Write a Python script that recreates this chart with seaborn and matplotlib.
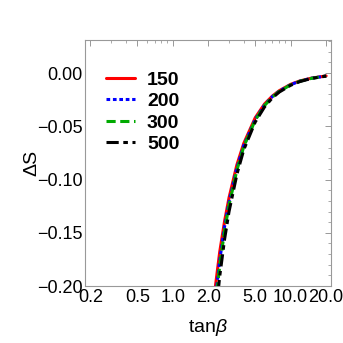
import numpy as np
import pandas as pd
import matplotlib
matplotlib.use("Agg")
import matplotlib.pyplot as plt
import matplotlib.ticker as mticker
import seaborn as sns

# values
tanb = [2.3, 2.5, 2.75, 3.0, 3.5, 4.0, 5.0, 6.0, 7.0, 8.0, 10.0, 12.0, 15.0, 20.0]
ds_150 = [-0.200, -0.168, -0.139, -0.117, -0.086, -0.066, -0.042, -0.029, -0.0215, -0.0165, -0.0105, -0.0073, -0.0047, -0.0026]
ds_200 = [-0.212, -0.176, -0.144, -0.121, -0.089, -0.068, -0.0435, -0.030, -0.022, -0.017, -0.0108, -0.0075, -0.0048, -0.0027]
ds_300 = [-0.218, -0.181, -0.148, -0.124, -0.091, -0.069, -0.0443, -0.0305, -0.0224, -0.0172, -0.0110, -0.0076, -0.0049, -0.0027]
ds_500 = [-0.230, -0.191, -0.156, -0.130, -0.095, -0.072, -0.0460, -0.0318, -0.0232, -0.0178, -0.0114, -0.0079, -0.0050, -0.0028]
series = {"150": ds_150, "200": ds_200, "300": ds_300, "500": ds_500}
colors = {"150": "#ff0000", "200": "#0000ff", "300": "#00aa00", "500": "#000000"}
dashes = {"150": None, "200": (1.2, 0.9), "300": (3, 1.5), "500": (4, 1.5, 1.5, 1.5)}

sns.set_style("white")
plt.rcParams["font.family"] = ["Liberation Sans", "DejaVu Sans"]
plt.rcParams["text.color"] = "black"
plt.rcParams["axes.labelcolor"] = "black"
plt.rcParams["mathtext.fontset"] = "custom"
plt.rcParams["mathtext.it"] = "Liberation Sans:italic"

fig = plt.figure(figsize=(3.43, 3.43), dpi=100)
ax = fig.add_axes([0.248, 0.166, 0.717, 0.717])

for name, vals in series.items():
    df = pd.DataFrame({"tanb": tanb, "dS": vals})
    sns.lineplot(data=df, x="tanb", y="dS", ax=ax, color=colors[name],
                 lw=2.2, label=name, estimator=None, sort=False)
    if dashes[name] is not None:
        ax.lines[-1].set_dashes(dashes[name])

ax.set_xscale("log")
ax.set_xlim(0.18, 22)
ax.set_ylim(-0.2, 0.031)
ax.set_xticks([0.2, 0.5, 1.0, 2.0, 5.0, 10.0, 20.0])
ax.set_xticklabels(["0.2", "0.5", "1.0", "2.0", "5.0", "10.0", "20.0"])
ax.xaxis.set_minor_locator(mticker.LogLocator(base=10, subs=np.arange(1, 10)))
ax.xaxis.set_minor_formatter(mticker.NullFormatter())
ax.set_yticks([-0.20, -0.15, -0.10, -0.05, 0.00])
ax.set_yticklabels(["\u22120.20", "\u22120.15", "\u22120.10", "\u22120.05", "0.00"])
ax.yaxis.set_minor_locator(mticker.MultipleLocator(0.01))

ax.tick_params(which="both", direction="in", top=True, right=True, colors="#888888",
               labelcolor="black", labelsize=13, pad=2)
ax.tick_params(which="major", length=4, width=0.6)
ax.tick_params(which="minor", length=2, width=0.5)
for sp in ax.spines.values():
    sp.set_color("#999999")
    sp.set_linewidth(0.8)

ax.set_xlabel(r"tan$\it{\beta}$", fontsize=14, labelpad=8)
ax.set_ylabel("\u0394S", fontsize=14, labelpad=-3)

leg = ax.legend(loc="upper left", bbox_to_anchor=(0.03, 0.93), frameon=False,
                prop={"weight": "bold", "size": 14}, handlelength=1.5,
                handletextpad=0.6, labelspacing=0.2, borderpad=0.2)

fig.savefig("out.png", dpi=100)
